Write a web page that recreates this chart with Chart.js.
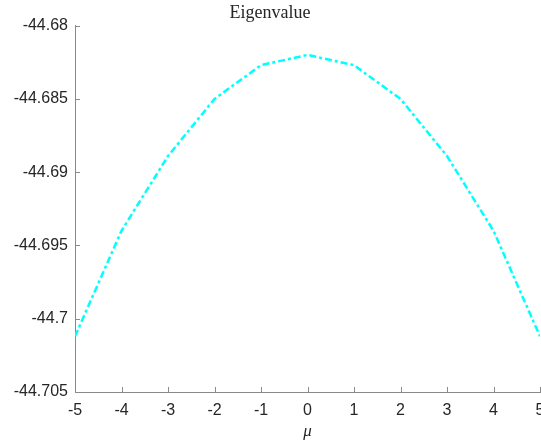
<!DOCTYPE html>
<html>
<head>
<meta charset="utf-8">
<title>Eigenvalue</title>
<script src="https://cdn.jsdelivr.net/npm/chart.js@4.4.1/dist/chart.umd.min.js"></script>
<style>
  html, body { margin: 0; padding: 0; background: #fff; }
  #wrap { width: 541px; height: 442px; }
</style>
</head>
<body>
<div id="wrap"><canvas id="grafico" width="541" height="442"></canvas></div>
<script>
// valores de mu e autovalor correspondente
const mu = [-5, -4, -3, -2, -1, 0, 1, 2, 3, 4, 5];
const autovalor = [-44.7012, -44.6940, -44.6889, -44.6850, -44.6827, -44.6820,
                   -44.6827, -44.6850, -44.6889, -44.6940, -44.7012];
const yMin = -44.705, yMax = -44.68, yPasso = 0.005;
const xMin = -5, xMax = 5, xPasso = 1;

const corTexto = '#262626';
const corEixo = '#8a8a8a';

// marcas dos eixos desenhadas para dentro (estilo MATLAB)
const marcasInternas = {
    id: 'marcasInternas',
    afterDatasetsDraw(chart) {
        const ctx = chart.ctx;
        const area = chart.chartArea;
        const sx = chart.scales.x, sy = chart.scales.y;
        ctx.save();
        ctx.strokeStyle = corEixo;
        ctx.lineWidth = 1;
        ctx.beginPath();
        sx.ticks.forEach(t => {
            const px = Math.round(sx.getPixelForValue(t.value)) + 0.5;
            ctx.moveTo(px, area.bottom);
            ctx.lineTo(px, area.bottom - 5);
        });
        sy.ticks.forEach(t => {
            const py = Math.round(sy.getPixelForValue(t.value)) + 0.5;
            ctx.moveTo(area.left, py);
            ctx.lineTo(area.left + 5, py);
        });
        ctx.stroke();
        ctx.restore();
    }
};

const pontos = mu.map((m, i) => ({ x: m, y: autovalor[i] }));

new Chart(document.getElementById('grafico').getContext('2d'), {
    type: 'line',
    data: {
        datasets: [{
            data: pontos,
            borderColor: '#00ffff',
            borderWidth: 2.5,
            borderDash: [7, 3, 3, 3],
            pointRadius: 0,
            tension: 0,
            fill: false
        }]
    },
    options: {
        responsive: false,
        animation: false,
        layout: { padding: { left: 0, right: 1, top: 0, bottom: 0 } },
        plugins: {
            legend: { display: false },
            tooltip: { enabled: false },
            title: {
                display: true,
                text: 'Eigenvalue',
                color: corTexto,
                font: { family: '"Liberation Serif", "DejaVu Serif", serif', size: 18, weight: 'normal' },
                padding: { top: 2, bottom: 2 }
            }
        },
        scales: {
            x: {
                type: 'linear',
                min: xMin,
                max: xMax,
                grid: { display: true, drawOnChartArea: false, drawTicks: false },
                border: { display: true, color: corEixo, width: 1 },
                ticks: {
                    stepSize: xPasso,
                    color: corTexto,
                    padding: 9,
                    maxRotation: 0,
                    autoSkip: false,
                    font: { family: '"Liberation Sans", Arial, sans-serif', size: 16 }
                },
                title: {
                    display: true,
                    text: 'μ',
                    color: corTexto,
                    font: { family: '"Liberation Serif", "DejaVu Serif", serif', size: 17, style: 'italic' },
                    padding: { top: 0, bottom: 0 }
                },
                afterFit(scale) {
                    scale.height = 50;
                    scale.paddingLeft = 0;
                    scale.paddingRight = 0;
                }
            },
            y: {
                min: yMin,
                max: yMax,
                grid: { display: true, drawOnChartArea: false, drawTicks: false },
                border: { display: true, color: corEixo, width: 1 },
                ticks: {
                    stepSize: yPasso,
                    color: corTexto,
                    padding: 7,
                    font: { family: '"Liberation Sans", Arial, sans-serif', size: 16 },
                    callback: v => String(parseFloat(v.toFixed(3)))
                },
                afterFit(scale) {
                    scale.width = 75;
                    scale.paddingTop = 0;
                    scale.paddingBottom = 0;
                }
            }
        }
    },
    plugins: [marcasInternas]
});
</script>
</body>
</html>
